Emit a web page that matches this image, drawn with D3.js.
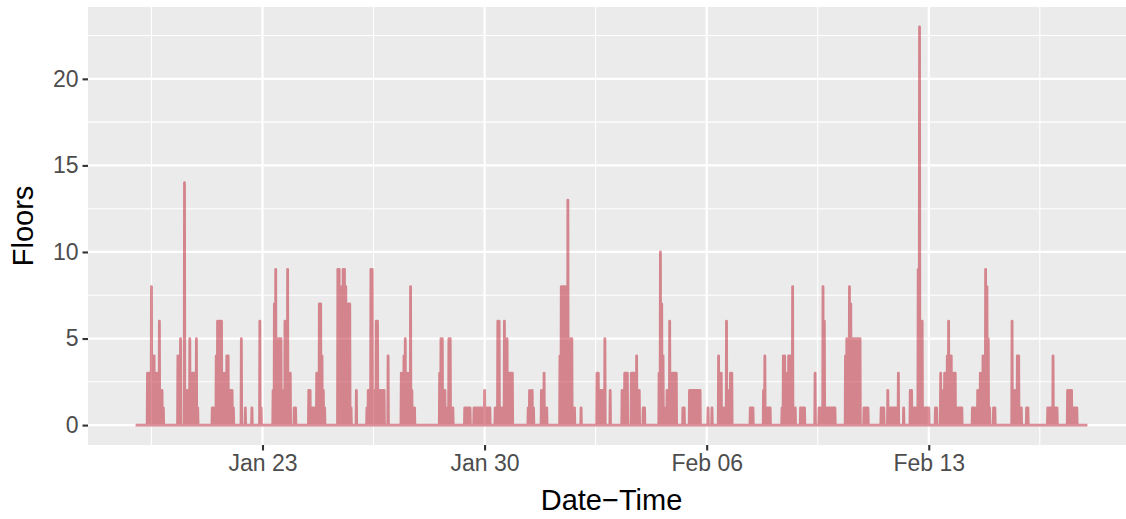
<!DOCTYPE html>
<html>
<head>
<meta charset="utf-8">
<script src="https://cdn.jsdelivr.net/npm/d3@7"></script>
<style>
  html, body { margin: 0; padding: 0; background: #ffffff; }
  svg { display: block; }
  text { font-family: "Liberation Sans", Arial, sans-serif; }
</style>
</head>
<body>
<svg id="chart" width="1126" height="519"></svg>
<script>
// ---- data ----
const startTime = "2018-01-19T00:00";
const endTime = "2018-02-18T00:00";
const readingMinutes = 15; // one reading every 15 minutes
// non-zero readings: [hours since start, floors]; every other reading is 0
const activity = [
  [9,3],[10,3],[11,3],[12,8],[13,4],[14,4],[15,3],[16,3],[17,1],[18,6],[19,2],[20,2],[21,1],
  [32,4],[33,4],[34,5],[37,14],[38,2],[39,2],[40,1],[41,5],[42,3],[43,3],[44,3],[45,3],[46,5],[47,1],
  [58,1],[59,1],[60,1],[61,4],[62,6],[63,6],[64,6],[65,6],[66,1],[67,3],[68,3],[69,4],[70,4],[71,2],[72,2],[73,2],[74,1],
  [80,5],[83,1],[88,1],[94,6],[95,1],
  [104,2],[105,7],[106,9],[107,5],[108,5],[109,5],[110,5],[111,1],[112,2],[113,6],[114,2],[115,9],[116,3],[117,3],[120,1],[121,1],
  [131,2],[132,2],[133,1],[134,1],[135,1],[136,1],[137,3],[138,3],[139,7],[140,7],[141,4],[142,2],[143,1],
  [153,9],[154,9],[155,8],[156,2],[157,9],[158,9],[159,8],[160,7],[161,7],[162,7],[163,1],[167,2],
  [175,1],[176,2],[177,2],[178,9],[179,9],[180,2],[181,2],[182,6],[183,6],[184,2],[185,2],[186,2],[187,2],[188,2],[191,4],
  [201,3],[202,3],[203,4],[204,5],[205,3],[206,3],[207,2],[208,8],[209,2],[210,1],[211,1],
  [230,3],[231,5],[232,5],[233,2],[234,2],[235,1],[237,5],[238,5],[239,1],[240,1],
  [249,1],[250,1],[251,1],[252,1],[253,1],[256,1],[257,1],[258,1],[259,1],[260,1],[261,1],[262,1],[264,2],[265,1],[266,1],[267,1],[268,1],
  [272,1],[273,1],[274,6],[275,6],[276,1],[277,1],[279,6],[280,5],[281,5],[282,3],[283,3],[284,3],[285,3],
  [297,1],[298,2],[299,1],[300,2],[301,1],
  [307,2],[308,2],[309,3],[310,1],[311,1],
  [321,4],[322,8],[323,8],[324,8],[325,8],[326,8],[327,13],[328,5],[329,5],[330,5],[331,1],[332,1],
  [337,1],
  [349,3],[350,3],[351,2],[352,2],[353,2],[354,2],[355,5],[359,2],
  [368,2],[369,2],[370,3],[371,3],[372,3],[375,3],[376,3],[377,3],[378,3],[379,4],[380,2],[381,2],[384,1],[385,1],
  [396,3],[397,10],[398,7],[399,4],[400,1],[402,2],[403,2],[404,6],[405,3],[406,3],[407,3],[408,3],[409,3],
  [414,1],[415,1],
  [419,2],[420,2],[421,2],[422,2],[423,2],[424,2],[425,2],[426,2],[427,2],
  [433,1],[436,1],
  [441,4],[442,3],[443,3],[444,1],[445,1],[447,6],[448,2],[449,2],[450,3],[451,3],
  [465,1],[466,1],[467,1],
  [475,2],[476,4],[477,1],[478,1],[479,1],[480,1],
  [489,1],[490,4],[491,4],[492,3],[493,3],[494,4],[495,4],[496,4],[497,8],[498,1],[499,1],
  [503,1],[504,1],[505,1],[506,1],
  [514,3],[517,1],[518,1],
  [520,8],[521,6],[522,1],[523,1],[524,1],[525,1],[526,1],[527,1],[528,1],[529,1],
  [537,4],[538,5],[539,5],[540,8],[541,7],[542,5],[543,5],[544,5],[545,5],[546,5],[547,5],[548,5],
  [551,1],[552,1],[553,1],[554,1],
  [564,1],[565,1],[566,1],[569,2],[570,1],[571,1],[572,1],[573,1],[574,1],[575,1],[577,3],[581,1],
  [586,2],[587,2],[588,1],[589,1],[590,1],
  [592,9],[593,23],[594,6],[595,6],[596,1],[597,1],[598,1],[599,1],[600,1],
  [605,1],[606,1],[609,3],[610,2],[611,2],[612,3],[613,3],[614,4],[615,6],[616,4],[617,4],[619,3],[620,3],
  [621,1],[622,1],[623,1],[624,1],[625,1],
  [633,1],[634,1],[635,1],[637,2],[638,2],[639,3],[640,3],[641,4],[642,3],[643,9],[644,8],[645,5],[646,1],[649,1],[650,1],
  [663,6],[665,2],[666,2],[667,4],[668,4],[669,1],[670,1],
  [674,1],[675,1],
  [690,1],[691,1],[692,1],[694,4],[695,1],[696,1],[697,1],
  [705,2],[706,2],[707,2],[708,2],[709,1],[710,1],[711,1],[712,1]
];
const xTickDates = ["2018-01-23","2018-01-30","2018-02-06","2018-02-13"];
const xTickLabels = ["Jan 23","Jan 30","Feb 06","Feb 13"];
const yTicks = [0, 5, 10, 15, 20];
const yMinor = [2.5, 7.5, 12.5, 17.5, 22.5];
const xMinorDates = ["2018-01-19T12:00","2018-01-26T12:00","2018-02-02T12:00","2018-02-09T12:00","2018-02-16T12:00"];

// ---- build the reading series (zero wherever nothing was logged) ----
const parse = d3.timeParse("%Y-%m-%dT%H:%M");
const parseDay = d3.timeParse("%Y-%m-%d");
const t0 = parse(startTime), t1 = parse(endTime);
const lookup = new Map(activity.map(([h, v]) => [h * 60, v]));
const series = d3.timeMinute.every(readingMinutes)
  .range(t0, d3.timeMinute.offset(t1, 1))
  .map(t => ({ t, v: lookup.get(Math.round((t - t0) / 60000)) || 0 }));

// ---- layout ----
const svg = d3.select("#chart");
const panel = { left: 88, top: 7, right: 1135, bottom: 445 };

const span = t1 - t0;
const x = d3.scaleTime()
  .domain([new Date(+t0 - 0.05 * span), new Date(+t1 + 0.05 * span)])
  .range([panel.left, panel.right]);
const yMax = d3.max(series, d => d.v);
const y = d3.scaleLinear()
  .domain([-0.05 * yMax, yMax * 1.05])
  .range([panel.bottom, panel.top]);

const clipId = "panelClip";
svg.append("defs").append("clipPath").attr("id", clipId)
  .append("rect").attr("x", panel.left).attr("y", panel.top)
  .attr("width", panel.right - panel.left).attr("height", panel.bottom - panel.top);

svg.append("rect")
  .attr("x", panel.left).attr("y", panel.top)
  .attr("width", panel.right - panel.left).attr("height", panel.bottom - panel.top)
  .attr("fill", "#EBEBEB");

const grid = svg.append("g").attr("clip-path", `url(#${clipId})`);
grid.selectAll(".ymin").data(yMinor).join("line")
  .attr("x1", panel.left).attr("x2", panel.right)
  .attr("y1", d => y(d)).attr("y2", d => y(d))
  .attr("stroke", "#ffffff").attr("stroke-width", 1.1);
grid.selectAll(".xmin").data(xMinorDates.map(parse)).join("line")
  .attr("y1", panel.top).attr("y2", panel.bottom)
  .attr("x1", d => x(d)).attr("x2", d => x(d))
  .attr("stroke", "#ffffff").attr("stroke-width", 1.1);
grid.selectAll(".ymaj").data(yTicks).join("line")
  .attr("x1", panel.left).attr("x2", panel.right)
  .attr("y1", d => y(d)).attr("y2", d => y(d))
  .attr("stroke", "#ffffff").attr("stroke-width", 2.2);
grid.selectAll(".xmaj").data(xTickDates.map(parseDay)).join("line")
  .attr("y1", panel.top).attr("y2", panel.bottom)
  .attr("x1", d => x(d)).attr("x2", d => x(d))
  .attr("stroke", "#ffffff").attr("stroke-width", 2.2);

// line
const line = d3.line().x(d => x(d.t)).y(d => y(d.v));
svg.append("g").attr("clip-path", `url(#${clipId})`)
  .append("path")
  .datum(series)
  .attr("d", line)
  .attr("fill", "none")
  .attr("stroke", "#BE1E2D")
  .attr("stroke-opacity", 0.5)
  .attr("stroke-width", 2.8)
  .attr("stroke-linejoin", "round");

// axes
const yAxis = d3.axisLeft(y).tickValues(yTicks).tickSize(5.5).tickPadding(4);
const gy = svg.append("g").attr("transform", `translate(${panel.left},0)`).call(yAxis);
gy.select(".domain").remove();
gy.selectAll(".tick line").attr("stroke", "#333333").attr("stroke-width", 2.1);
gy.selectAll(".tick text").attr("fill", "#4D4D4D").style("font-size", "23px")
  .style("font-family", "'Liberation Sans', Arial, sans-serif");

const xAxis = d3.axisBottom(x).tickValues(xTickDates.map(parseDay))
  .tickFormat((d, i) => xTickLabels[i]).tickSize(5.5).tickPadding(4);
const gx = svg.append("g").attr("transform", `translate(0,${panel.bottom})`).call(xAxis);
gx.select(".domain").remove();
gx.selectAll(".tick line").attr("stroke", "#333333").attr("stroke-width", 2.1);
gx.selectAll(".tick text").attr("fill", "#4D4D4D").style("font-size", "23px")
  .style("font-family", "'Liberation Sans', Arial, sans-serif");

// titles
svg.append("text")
  .attr("x", (panel.left + panel.right) / 2).attr("y", 510)
  .attr("text-anchor", "middle").attr("fill", "#000")
  .style("font-size", "29px").text("Date\u2212Time");
svg.append("text")
  .attr("transform", `translate(33,${(panel.top + panel.bottom) / 2}) rotate(-90)`)
  .attr("text-anchor", "middle").attr("fill", "#000")
  .style("font-size", "29px").text("Floors");
</script>
</body>
</html>
